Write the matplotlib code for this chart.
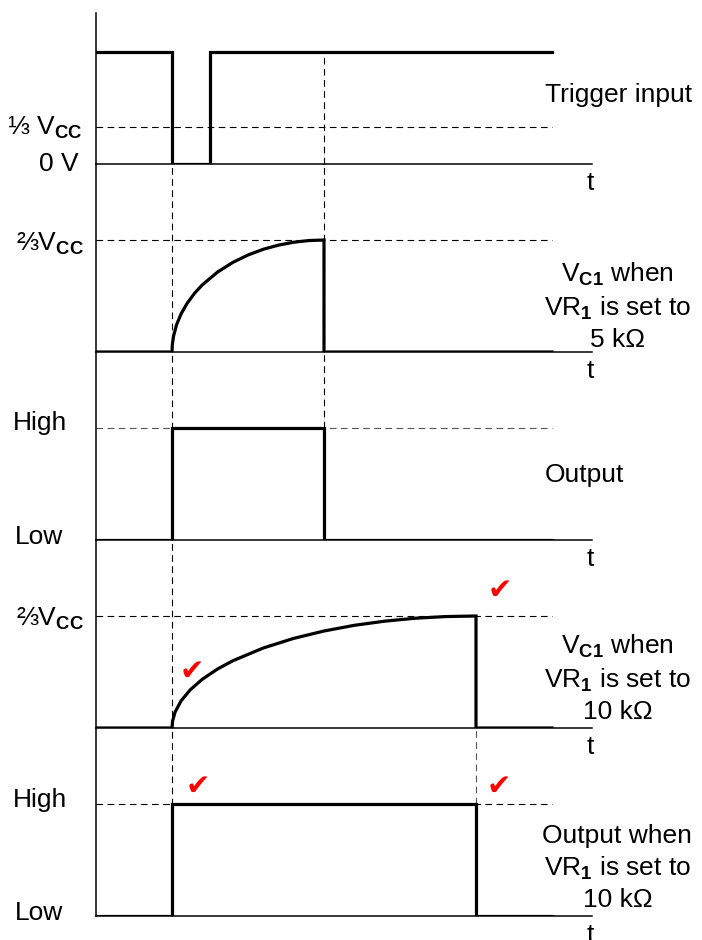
import matplotlib
matplotlib.use("Agg")
import matplotlib.pyplot as plt

plt.rcParams['font.family'] = ['Liberation Sans', 'DejaVu Sans']
plt.rcParams['mathtext.fontset'] = 'custom'
plt.rcParams['mathtext.rm'] = 'Liberation Sans'
plt.rcParams['mathtext.it'] = 'Liberation Sans'
plt.rcParams['mathtext.bf'] = 'Liberation Sans:bold'

# ---------------- data (time in arbitrary units, levels normalised) ----------------
t_end = 12            # end of drawn signals
t_axis = 13.05        # end of the time axis
trigger_t = [0, 2, 2, 3, 3, 12]
trigger_v = [1, 1, 0, 0, 1, 1]
trigger_threshold = 1 / 3

# capacitor charging shape (fraction of time vs fraction of 2/3 Vcc)
charge_frac_t = [0, 0.002, 0.01, 0.03, 0.06, 0.1, 0.15, 0.2, 0.3, 0.4, 0.5, 0.6, 0.7, 0.8, 0.9, 1.0]
charge_frac_v = [0, 0.063, 0.141, 0.243, 0.341, 0.436, 0.527, 0.600, 0.714, 0.800, 0.866, 0.917,
                 0.954, 0.980, 0.995, 1.0]

t_start = 2
t_stop_5k = 6
t_stop_10k = 10

output5_t = [0, 2, 2, 6, 6, 12]
output5_v = [0, 0, 1, 1, 0, 0]
output10_t = [0, 2, 2, 10, 10, 12]
output10_v = [0, 0, 1, 1, 0, 0]

# ---------------- layout ----------------
W, H = 702, 940
fig = plt.figure(figsize=(W / 100, H / 100), dpi=100)

x0, x1 = 96, 96 + 38 * t_axis
baselines = [164, 352, 540, 728, 916]
tops = [13, 164, 352, 540, 728]
unit_px = 112.0

axes = []
for top, base in zip(tops, baselines):
    ax = fig.add_axes([x0 / W, 1 - base / H, (x1 - x0) / W, (base - top) / H])
    ax.set_xlim(0, t_axis)
    ax.set_ylim(0, (base - top) / unit_px)
    for s in ['top', 'right']:
        ax.spines[s].set_visible(False)
    ax.spines['left'].set_linewidth(1.1)
    ax.spines['bottom'].set_linewidth(1.1)
    ax.set_xticks([])
    ax.set_yticks([])
    ax.patch.set_alpha(0)
    axes.append(ax)

thick = dict(color='black', lw=2.3, solid_joinstyle='miter', zorder=5)
dash = dict(color='black', lw=0.8, ls=(0, (6, 4)), zorder=2)
dash_grey = dict(color='#555555', lw=0.8, ls=(0, (6, 4)), zorder=2)

def vdash(ax, t, y0, y1, **kw):
    ax.plot([t, t], [y0, y1], clip_on=False, **kw)

def hdash(ax, y, **kw):
    ax.plot([0, t_end], [y, y], clip_on=False, **kw)

fs = 19
ls = 1.32
tx_label = 11.82   # left aligned single labels
tx_center = 13.72  # centred multi-line labels

# ---- panel 1: trigger ----
ax = axes[0]
ax.plot(trigger_t, trigger_v, **thick)
hdash(ax, trigger_threshold, **dash)
vdash(ax, t_stop_5k, 0, 1, **dash)
ax.text(tx_label, 0.62, 'Trigger input', fontsize=fs, ha='left', va='center')

# ---- panel 2: Vc1 5k ----
ax = axes[1]
top2 = ax.get_ylim()[1]
vdash(ax, t_start, 0, top2, **dash)
vdash(ax, t_stop_5k, 0, top2, **dash)
hdash(ax, 1, **dash)
ct = [t_start + f * (t_stop_5k - t_start) for f in charge_frac_t]
ax.plot([0, t_start] + ct + [t_stop_5k, t_end], [0, 0] + charge_frac_v + [0, 0], **thick)
ax.text(tx_center, 0.41, 'V$_{\\mathbf{C1}}$ when\nVR$_{\\mathbf{1}}$ is set to\n5 kΩ',
        fontsize=fs, ha='center', va='center', linespacing=ls)

# ---- panel 3: output 5k ----
ax = axes[2]
vdash(ax, t_start, 0, top2, **dash)
vdash(ax, t_stop_5k, 1, top2, **dash)
hdash(ax, 1, **dash_grey)
ax.plot(output5_t, output5_v, **thick)
ax.text(tx_label, 0.58, 'Output', fontsize=fs, ha='left', va='center')

# ---- panel 4: Vc1 10k ----
ax = axes[3]
vdash(ax, t_start, 0, top2, **dash)
hdash(ax, 1, **dash)
ct = [t_start + f * (t_stop_10k - t_start) for f in charge_frac_t]
ax.plot([0, t_start] + ct + [t_stop_10k, t_end], [0, 0] + charge_frac_v + [0, 0], **thick)
ax.text(tx_center, 0.44, 'V$_{\\mathbf{C1}}$ when\nVR$_{\\mathbf{1}}$ is set to\n10 kΩ',
        fontsize=fs, ha='center', va='center', linespacing=ls)

# ---- panel 5: output 10k ----
ax = axes[4]
vdash(ax, t_start, 0, top2, **dash)
vdash(ax, t_stop_10k, 1, top2, **dash_grey)
hdash(ax, 1, **dash)
ax.plot(output10_t, output10_v, **thick)
ax.text(tx_center, 0.43, 'Output when\nVR$_{\\mathbf{1}}$ is set to\n10 kΩ',
        fontsize=fs, ha='center', va='center', linespacing=ls)

# ---- t labels ----
for ax in axes:
    ax.text(13.0, -0.17, 't', fontsize=fs, ha='center', va='center', clip_on=False)

# ---- y labels (figure pixel positions) ----
def ylab(x, y, s, ha='right'):
    fig.text(x / W, 1 - y / H, s, fontsize=fs, ha=ha, va='center')

ylab(82, 128, '⅓ V$_{\\mathbf{CC}}$')
ylab(79, 164, '0 V')
ylab(84, 244, '⅔V$_{\\mathbf{CC}}$')
ylab(40, 423, 'High', ha='center')
ylab(39, 537, 'Low', ha='center')
ylab(84, 619, '⅔V$_{\\mathbf{CC}}$')
ylab(40, 800, 'High', ha='center')
ylab(39, 913, 'Low', ha='center')

# ---- red check marks ----
checks = [(192, 672), (500, 591), (198, 787), (499, 787)]
for cx, cy in checks:
    fig.text(cx / W, 1 - cy / H, '✔', fontsize=21, color='red', ha='center', va='center',
             family=['DejaVu Sans'])

fig.savefig('out.png', dpi=100)
